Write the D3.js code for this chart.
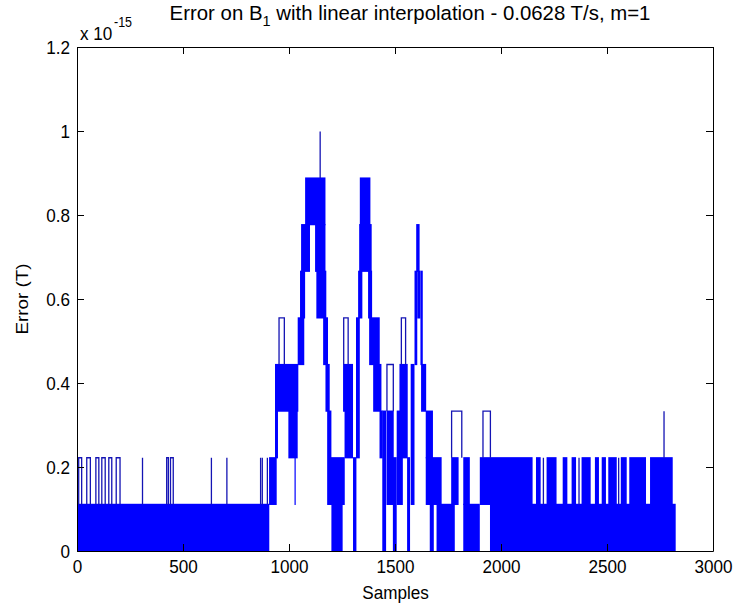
<!DOCTYPE html>
<html>
<head>
<meta charset="utf-8">
<script src="https://cdn.jsdelivr.net/npm/d3@7"></script>
<style>
  body { margin: 0; background: #ffffff; }
  text { font-family: "Liberation Sans", Arial, Helvetica, sans-serif; fill: #000; }
</style>
</head>
<body>
<svg id="chart" width="737" height="610"></svg>
<script>
// Axis ticks
const xTicks = [0, 500, 1000, 1500, 2000, 2500, 3000];
const yTicks = [0, 0.2, 0.4, 0.6, 0.8, 1, 1.2];

// Error bands: over [bandStart, bandEnd] (samples) the error toggles
// between bandLow and bandHigh (units of 1e-15 T, steps of one LSB).
const bandStart = [0, 906, 934, 934, 997, 1026, 1041, 1052, 1057, 1076, 1123, 1129, 1161, 1172, 1180, 1196, 1200,
  1255, 1262, 1302, 1316, 1326, 1331, 1334, 1373, 1378, 1397, 1427, 1440,
  1460, 1490, 1508, 1521, 1557, 1574, 1592, 1605, 1620, 1600, 1623, 1645, 1645, 1664, 1696,
  1765, 1822, 1822, 1948,
  1900, 2165, 2215, 2291, 2333, 2380, 2443, 2475, 2506, 2565, 2605, 2703];
const bandEnd = [907, 942, 948, 1044, 1041, 1030, 1072, 1076, 1099, 1172, 1172, 1176, 1184, 1192, 1200, 1263, 1253,
  1302, 1302, 1318, 1334, 1346, 1390, 1384, 1392, 1428, 1436, 1442, 1458,
  1494, 1508, 1537, 1560, 1571, 1592, 1605, 1620, 1631, 1616, 1647, 1679, 1720, 1683, 1782,
  1800, 1853, 1900, 2824,
  2149, 2187, 2262, 2313, 2354, 2423, 2462, 2495, 2546, 2593, 2684, 2810];
const bandLow = [0, 0.111, 0.222, 0.333, 0.222, 0.111, 0.444, 0.555, 0.666, 0.777, 0.666, 0.555, 0.444, 0.333, 0.111, 0.111, 0,
  0.333, 0.222, 0, 0.222, 0.555, 0.666, 0.777, 0.555, 0.444, 0.333, 0.222, 0,
  0.111, 0, 0.111, 0.222, 0, 0.111, 0.444, 0.555, 0.444, 0.666, 0.333, 0.222, 0.111, 0, 0,
  0.111, 0.111, 0, 0,
  0.111, 0.111, 0.111, 0.111, 0.111, 0.111, 0.111, 0.111, 0.111, 0.111, 0.111, 0.111];
const bandHigh = [0.111, 0.222, 0.333, 0.444, 0.333, 0.333, 0.555, 0.666, 0.777, 0.888, 0.777, 0.666, 0.555, 0.444, 0.333, 0.222, 0.111,
  0.444, 0.333, 0.222, 0.555, 0.666, 0.777, 0.888, 0.666, 0.555, 0.444, 0.333, 0.333,
  0.333, 0.222, 0.333, 0.444, 0.222, 0.444, 0.666, 0.666, 0.666, 0.777, 0.444, 0.333, 0.222, 0.111, 0.111,
  0.222, 0.222, 0.111, 0.111,
  0.222, 0.222, 0.222, 0.222, 0.222, 0.222, 0.222, 0.222, 0.222, 0.222, 0.222, 0.222];

// Isolated excursions: one LSB above the running band, from spikeStart to spikeEnd
const spikeStart = [8, 46, 89, 117, 150, 185, 309, 423, 441, 634, 707, 866, 874, 898,
  953, 1147, 1258, 1462, 1530, 1767, 1915, 2200, 2368, 2555, 2769];
const spikeEnd = [22, 63, 103, 133, 164, 203, 309, 431, 454, 634, 707, 866, 874, 898,
  978, 1147, 1279, 1492, 1550, 1815, 1950, 2200, 2368, 2555, 2769];
const spikeBase = [0.111, 0.111, 0.111, 0.111, 0.111, 0.111, 0.111, 0.111, 0.111, 0.111, 0.111, 0.111, 0.111, 0.111,
  0.444, 0.888, 0.444, 0.333, 0.444, 0.222, 0.222, 0.111, 0.111, 0.111, 0.222];
const spikeTop = [0.222, 0.222, 0.222, 0.222, 0.222, 0.222, 0.222, 0.222, 0.222, 0.222, 0.222, 0.222, 0.222, 0.222,
  0.555, 0.999, 0.555, 0.444, 0.555, 0.333, 0.333, 0.222, 0.222, 0.222, 0.333];

const svg = d3.select("#chart");
const W = 737, H = 610;
svg.append("rect").attr("width", W).attr("height", H).attr("fill", "#ffffff");

const x = d3.scaleLinear().domain([0, 3000]).range([77, 713]);
const y = d3.scaleLinear().domain([0, 1.2]).range([551, 47]);

// text is stretched like the exported figure (wider and taller glyphs)
const SX = 1.316, SY = 1.452;
function put(str, px, py, size, anchor, rotate) {
  const t = svg.append("text")
    .attr("font-size", size)
    .attr("text-anchor", anchor)
    .attr("dy", "0.35em")
    .text(str);
  t.attr("transform", rotate
    ? `translate(${px},${py}) rotate(-90) scale(${SY},${SX})`
    : `translate(${px},${py}) scale(${SX},${SY})`);
  return t;
}

// data
svg.append("clipPath").attr("id", "plotclip")
  .append("rect").attr("x", 77).attr("y", 47).attr("width", 637).attr("height", 505);
const plot = svg.append("g").attr("clip-path", "url(#plotclip)");

const bands = d3.range(bandStart.length).map(i => ({
  s: bandStart[i], e: bandEnd[i], lo: bandLow[i], hi: bandHigh[i]
}));
plot.selectAll("rect.band").data(bands).join("rect")
  .attr("class", "band")
  .attr("x", d => x(d.s))
  .attr("width", d => Math.max(1.2, x(d.e) - x(d.s)))
  .attr("y", d => y(d.hi) - 0.6)
  .attr("height", d => y(d.lo) - y(d.hi) + 1.2)
  .attr("fill", "#0000ff");

const spikes = d3.range(spikeStart.length).map(i => ({
  s: spikeStart[i], e: spikeEnd[i], b: spikeBase[i], t: spikeTop[i]
}));
plot.selectAll("path.spike").data(spikes).join("path")
  .attr("class", "spike")
  .attr("d", d => d.s === d.e
    ? `M${x(d.s)},${y(d.b)}V${y(d.t)}`
    : `M${x(d.s)},${y(d.b)}V${y(d.t)}H${x(d.e)}V${y(d.b)}`)
  .attr("fill", "none")
  .attr("stroke", "#1414b4")
  .attr("stroke-width", 1.3);

// axes box with inward ticks on all four sides
const tk = 7;
function styleAxis(g) {
  g.selectAll("path, line").attr("stroke", "#000").attr("stroke-width", 1);
  g.selectAll("text").remove();
}
svg.append("g").attr("transform", "translate(0,551)")
  .call(d3.axisBottom(x).tickValues(xTicks).tickSizeInner(-tk).tickSizeOuter(0).tickFormat(""))
  .call(styleAxis);
svg.append("g").attr("transform", "translate(0,47)")
  .call(d3.axisTop(x).tickValues(xTicks).tickSizeInner(-tk).tickSizeOuter(0).tickFormat(""))
  .call(styleAxis);
svg.append("g").attr("transform", "translate(77,0)")
  .call(d3.axisLeft(y).tickValues(yTicks).tickSizeInner(-tk).tickSizeOuter(0).tickFormat(""))
  .call(styleAxis);
svg.append("g").attr("transform", "translate(713,0)")
  .call(d3.axisRight(y).tickValues(yTicks).tickSizeInner(-tk).tickSizeOuter(0).tickFormat(""))
  .call(styleAxis);

// tick labels
xTicks.forEach(v => put(String(v), x(v) + 0.5, 566, 13, "middle"));
yTicks.forEach(v => put(String(v), 70, y(v) + 0.5, 13, "end"));

// exponent note
put("x 10", 80, 33, 13, "start");
put("-15", 114, 22, 9.5, "start");

// axis titles
put("Samples", 395.5, 592, 13, "middle");
put("Error (T)", 22, 299, 13, "middle", true);

// title with subscript
const title = svg.append("text")
  .attr("font-size", 15.5)
  .attr("text-anchor", "middle")
  .attr("dy", "0.35em")
  .attr("transform", `translate(410,13) scale(${SX},${SY * 0.92})`);
title.append("tspan").text("Error on B");
title.append("tspan").attr("font-size", 11).attr("dy", 4).text("1");
title.append("tspan").attr("dy", -4).text(" with linear interpolation - 0.0628 T/s, m=1");
</script>
</body>
</html>
